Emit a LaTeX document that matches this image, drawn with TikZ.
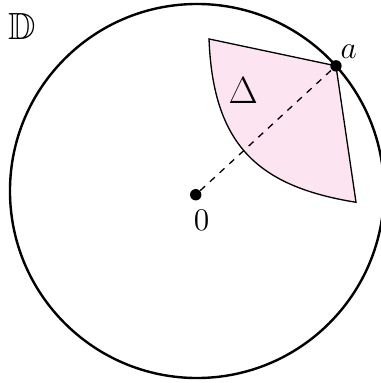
\documentclass[tikz,border=0pt]{standalone}
\usepackage{amsmath,amssymb}
\usepackage{tikz}
\usetikzlibrary{positioning,calc}
\usepackage{xcolor}
\definecolor{regioncolor}{RGB}{252,228,241}

\begin{document}
\begin{tikzpicture}[
    dot/.style={circle, fill=black, inner sep=0pt, minimum size=5.2pt},
    region/.style={draw=black, semithick, fill=regioncolor},
    disk/.style={draw=black, line width=1.1pt},
    label/.style={font=\Large, inner sep=0pt}
]
\useasboundingbox (-3.160,-3.080) rectangle (2.952,3.064);

% Region Delta
\coordinate (ptop) at (0.193, 2.439);
\coordinate (pbot) at (2.551, -0.181);
\coordinate (pa) at (42:3);
\draw[region] (ptop) -- (pa) -- (pbot)
    .. controls (0.979, 0.072) and (0.257, 0.738) .. (ptop) -- cycle;

% Unit disk
\draw[disk] (0,0) circle (3);

% Points
\node[dot] (o) at (-0.02,-0.06) {};
\node[dot] (a) at (pa) {};
\draw[semithick, dashed] (o) -- (a);

% Labels
\node[label] (lblo) at (0.075,-0.465) {$0$};
\node[label] (lbla) at (2.434, 2.235) {$a$};
\node[font=\LARGE, inner sep=0pt] (lbld) at (0.743, 1.612) {$\Delta$};
\node[font=\LARGE, inner sep=0pt] (disklbl) at (-2.800, 2.639) {$\mathbb{D}$};

\end{tikzpicture}
\end{document}
